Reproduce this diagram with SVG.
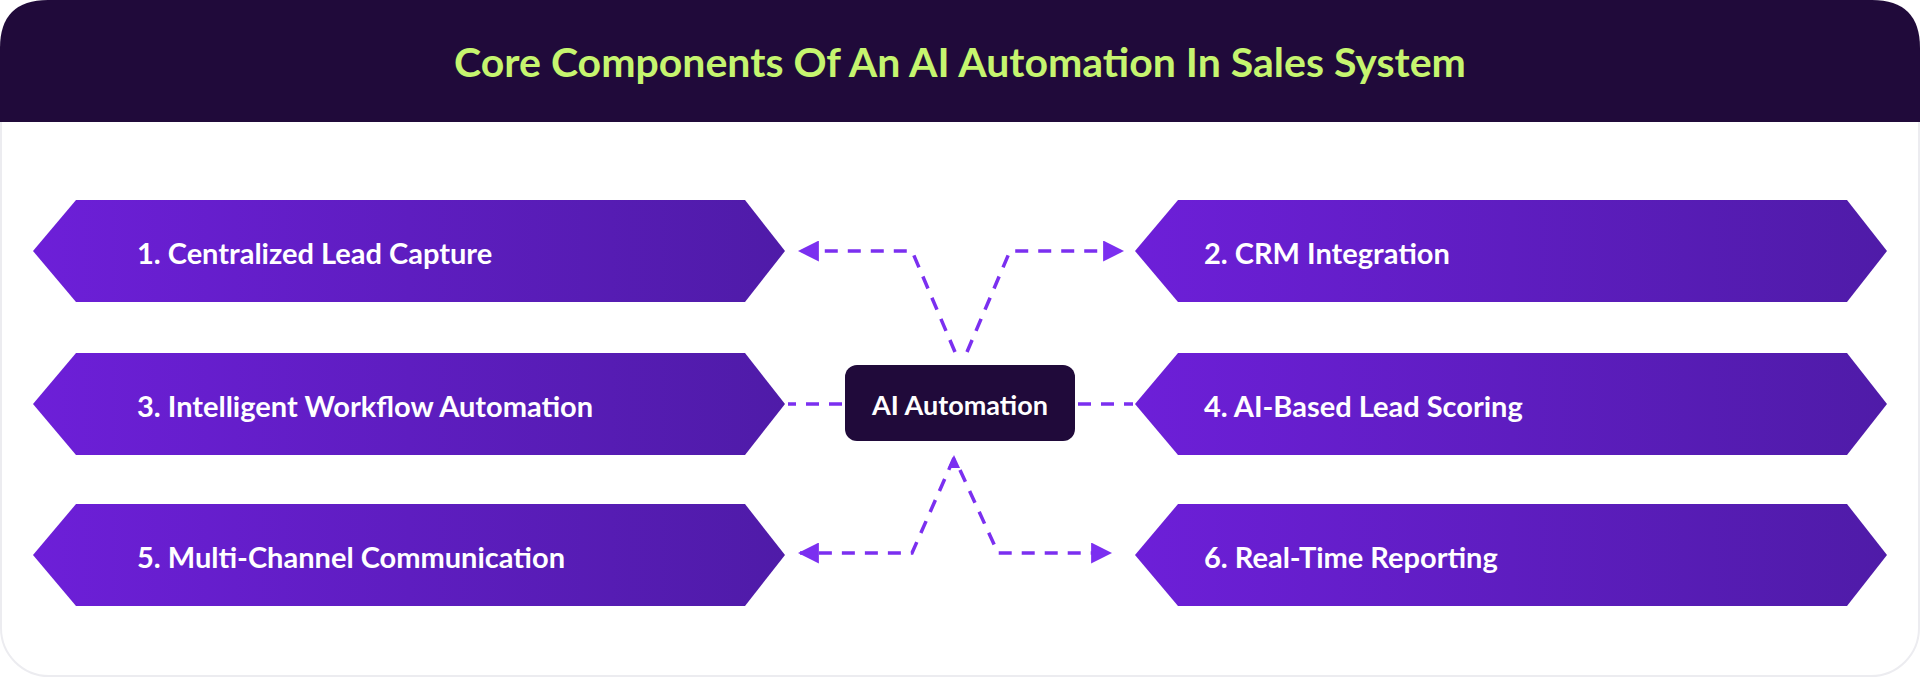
<svg xmlns="http://www.w3.org/2000/svg" width="1920" height="677" viewBox="0 0 1920 677">
<defs>
<linearGradient id="hg" x1="0" y1="0" x2="1" y2="0"><stop offset="0" stop-color="#6d1fd8"/><stop offset="1" stop-color="#4f1ba8"/></linearGradient>
<marker id="ah" viewBox="0 0 10 10" refX="9" refY="5" markerWidth="7" markerHeight="7" markerUnits="userSpaceOnUse" orient="auto-start-reverse"><path d="M0,0 L10,5 L0,10 z" fill="#7b2ff0"/></marker>
<marker id="ahb" viewBox="0 0 10 10" refX="9" refY="5" markerWidth="6" markerHeight="6" orient="auto-start-reverse"><path d="M0,0 L10,5 L0,10 z" fill="#7b2ff0"/></marker>
</defs>
<style>
.hex{fill:url(#hg)}
.lbl{font-family:Lato,"Liberation Sans",sans-serif;font-weight:700;font-size:29px;fill:#fff;dominant-baseline:central}
.con{fill:none;stroke:#7b2ff0;stroke-width:3.5;stroke-dasharray:13 10}
</style>
<rect x="1" y="1" width="1918" height="675" rx="48" fill="#fff" stroke="#ececf0" stroke-width="2"/>
<path d="M0,122 V48 Q0,0 48,0 H1872 Q1920,0 1920,48 V122 Z" fill="#200a3a"/>
<text x="960" y="61" text-anchor="middle" font-family="Lato,'Liberation Sans',sans-serif" font-weight="700" font-size="41" fill="#c6f56f" dominant-baseline="central">Core Components Of An AI Automation In Sales System</text>
<g id="connectors">
<path class="con" d="M955,352 L912,251 H800" marker-end="url(#ahb)"/>
<path class="con" d="M967,352 L1010,251 H1122" marker-end="url(#ahb)"/>
<path class="con" d="M842,404 H788"/>
<path class="con" d="M1078,404 H1133"/>
<path class="con" d="M954,458 L912,553 H800" marker-end="url(#ahb)"/>
<path class="con" d="M960,470 L998,553 H1110" marker-end="url(#ahb)"/>
<path d="M948,468 L954,455 L960,468 z" fill="#7b2ff0"/>
</g>
<g id="n1"><polygon class="hex" points="33,251 76,200 745,200 785,251 745,302 76,302"/><text class="lbl" x="137" y="252">1. Centralized Lead Capture</text></g>
<g id="n2"><polygon class="hex" points="1135,251 1178,200 1847,200 1887,251 1847,302 1178,302"/><text class="lbl" x="1204" y="252">2. CRM Integration</text></g>
<g id="n3"><polygon class="hex" points="33,404 76,353 745,353 785,404 745,455 76,455"/><text class="lbl" x="137" y="405">3. Intelligent Workflow Automation</text></g>
<g id="n4"><polygon class="hex" points="1135,404 1178,353 1847,353 1887,404 1847,455 1178,455"/><text class="lbl" x="1204" y="405">4. AI-Based Lead Scoring</text></g>
<g id="n5"><polygon class="hex" points="33,555 76,504 745,504 785,555 745,606 76,606"/><text class="lbl" x="137" y="556">5. Multi-Channel Communication</text></g>
<g id="n6"><polygon class="hex" points="1135,555 1178,504 1847,504 1887,555 1847,606 1178,606"/><text class="lbl" x="1204" y="556">6. Real-Time Reporting</text></g>
<g id="center"><rect x="845" y="365" width="230" height="76" rx="12" fill="#200a3a"/><text x="960" y="404" text-anchor="middle" font-family="Lato,'Liberation Sans',sans-serif" font-weight="700" font-size="27" fill="#fff" dominant-baseline="central">AI Automation</text></g>
</svg>
